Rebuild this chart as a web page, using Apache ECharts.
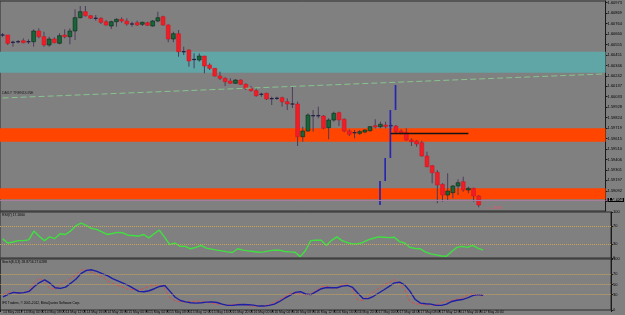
<!DOCTYPE html>
<html><head><meta charset="utf-8">
<script src="https://cdn.jsdelivr.net/npm/echarts@6/dist/echarts.min.js"></script>
<style>html,body{margin:0;padding:0;background:#808080;}#c{width:625px;height:315px;}</style>
</head><body><div id="c"></div>
<script>
// ---------- data ----------
const TIME_LABELS = ["14 May 2012","14 May 04:00","14 May 08:00","14 May 12:00","14 May 16:00","14 May 20:00",
  "15 May 00:00","15 May 04:00","15 May 08:00","15 May 12:00","15 May 16:00","15 May 20:00",
  "16 May 00:00","16 May 04:00","16 May 08:00","16 May 12:00","16 May 16:00","16 May 20:00",
  "17 May 00:00","17 May 04:00","17 May 08:00","17 May 12:00","17 May 16:00","17 May 20:00"];
const N_SLOTS = 117;          // hourly slots visible on the chart
const HOURS_PER_LABEL = 4;

const OPEN = [1.6065,1.6065,1.60577,1.60583,1.60593,1.60583,1.60583,1.6069,1.60633,1.6055,
1.6061,1.60567,1.6065,1.60633,1.6069,1.60823,1.60883,1.60843,1.60817,1.60817,
1.60783,1.6074,1.60783,1.60807,1.6079,1.6076,1.60773,1.60757,1.60773,1.6074,
1.6079,1.60833,1.6075,1.6061,1.60663,1.60483,1.6050,1.60405,1.6040,1.6044,
1.6035,1.60317,1.6024,1.60217,1.6019,1.60167,1.6020,1.60157,1.60117,1.60093,
1.60057,1.60067,1.60017,1.60017,1.60023,1.59983,1.5996,1.5996,1.59633,1.5969,
1.59843,1.59843,1.5984,1.59723,1.5980,1.59873,1.59807,1.5969,1.59673,1.59667,
1.5968,1.59693,1.59743,1.59733,1.5975,1.59743,1.5974,1.5969,1.59677,1.5960,
1.5959,1.59573,1.5944,1.59343,1.59277,1.59157,1.5905,1.59073,1.5914,1.59183,
1.5910,1.59117,1.5904];
const HIGH = [1.6067,1.6065,1.60593,1.6060,1.60617,1.60607,1.60707,1.60717,1.60683,1.60633,
1.60627,1.60667,1.60707,1.60717,1.60907,1.6094,1.6094,1.6085,1.6085,1.60827,
1.6080,1.60793,1.60817,1.60827,1.60817,1.60783,1.60793,1.60783,1.60783,1.6080,
1.60883,1.60843,1.60757,1.60683,1.6070,1.60533,1.60507,1.60467,1.60467,1.6044,
1.60367,1.60317,1.60283,1.60227,1.60217,1.60207,1.60207,1.60167,1.6014,1.60117,
1.60073,1.60073,1.60033,1.60033,1.60033,1.60017,1.60133,1.59983,1.59733,1.59867,
1.5990,1.59933,1.5985,1.59817,1.59883,1.59883,1.59817,1.59707,1.5970,1.5970,
1.59707,1.5974,1.59807,1.59783,1.59783,1.59767,1.5975,1.59707,1.59717,1.59617,
1.5960,1.59593,1.59483,1.5935,1.5930,1.59167,1.59267,1.5915,1.59207,1.59233,
1.59133,1.59123,1.5905];
const LOW = [1.6063,1.6055,1.60533,1.60567,1.60567,1.6056,1.60533,1.60617,1.60533,1.60533,
1.60567,1.60557,1.60617,1.60557,1.6060,1.60817,1.60833,1.6081,1.60793,1.6076,
1.60743,1.6071,1.60733,1.60773,1.60743,1.60733,1.6074,1.6074,1.6074,1.60733,
1.60777,1.60743,1.60577,1.60577,1.60433,1.6045,1.60333,1.60317,1.60383,1.60267,
1.6030,1.60233,1.6020,1.6014,1.6016,1.6016,1.6015,1.6010,1.60083,1.60033,
1.60033,1.6000,1.5995,1.6000,1.59933,1.5990,1.5992,1.5954,1.59583,1.59683,
1.59683,1.59817,1.59707,1.59607,1.59783,1.5974,1.59677,1.5964,1.59617,1.5965,
1.59667,1.59683,1.59717,1.59717,1.59717,1.5970,1.59667,1.59657,1.59593,1.5954,
1.59533,1.59433,1.59327,1.59167,1.58967,1.58983,1.5900,1.59017,1.5905,1.59083,
1.59067,1.58983,1.58927];
const CLOSE = [1.6065,1.60567,1.60577,1.60583,1.60573,1.60583,1.6069,1.60633,1.6055,1.6061,
1.60573,1.60643,1.60633,1.6069,1.60823,1.60883,1.60843,1.60817,1.60817,1.60777,
1.6075,1.60783,1.60807,1.6079,1.6076,1.6076,1.6075,1.60777,1.60747,1.6079,
1.60823,1.6075,1.6061,1.60663,1.60483,1.60483,1.6039,1.60405,1.6044,1.6034,
1.60317,1.6024,1.60217,1.60183,1.60167,1.6020,1.60157,1.60117,1.60093,1.60043,
1.60057,1.6001,1.6001,1.60017,1.59983,1.5996,1.5996,1.59633,1.5969,1.5985,
1.59843,1.59843,1.59717,1.5980,1.59867,1.5980,1.5969,1.59657,1.59673,1.59683,
1.5970,1.59733,1.5973,1.59757,1.59733,1.59743,1.59683,1.59673,1.5960,1.59583,
1.5956,1.5944,1.59333,1.59273,1.5915,1.5905,1.5909,1.5914,1.59173,1.5910,
1.59117,1.5904,1.5895];

const RSI7 = [41.5,32.6,34.8,37.8,37.8,39.3,58.5,47.4,37.8,45.9,
42.2,52.6,51.1,58.5,69.6,75.6,71.1,64.4,62.2,57.0,
51.1,53.3,55.6,54.8,49.6,48.9,47.4,51.1,43.7,52.6,
60.7,45.2,28.9,32.6,25.2,25.2,20.0,23.0,27.4,21.5,
19.3,17.0,15.6,13.3,11.9,20.0,17.0,15.6,14.1,12.6,
13.3,15.6,17.0,17.0,14.1,13.3,12.6,3.0,16.3,37.8,
38.5,38.5,27.4,38.5,45.9,37.8,33.3,30.4,30.4,34.1,
39.3,43.0,45.9,45.2,44.4,45.2,35.6,32.6,23.0,20.7,
20.0,12.6,8.9,6.7,4.4,3.7,14.1,23.0,25.2,23.0,
27.4,21.5,17.3];
const STOCH_MAIN = [25.6,30.8,34.6,33.3,34.0,36.5,46.2,53.8,59.0,52.6,
43.6,42.3,44.9,52.6,60.9,71.8,77.6,78.8,75.6,71.2,
67.3,61.5,57.1,52.6,48.1,42.3,36.5,35.9,37.8,41.7,
46.2,48.1,36.5,25.0,18.6,16.0,14.1,13.5,14.1,15.4,
16.0,14.7,11.5,9.0,9.0,10.3,10.9,10.3,9.6,7.7,
7.7,9.0,11.5,16.7,23.1,28.8,34.6,35.9,31.4,30.1,
35.9,41.7,44.2,43.6,43.6,46.8,48.1,44.2,32.7,22.4,
22.4,26.9,33.3,39.7,46.2,53.2,54.5,48.7,36.5,20.5,
13.5,12.2,11.5,9.0,9.0,11.5,16.7,19.2,20.5,23.7,
28.2,30.1,28.8];
const STOCH_SIGNAL = [30.1,35.9,34.6,34.0,34.0,38.5,53.2,62.2,55.1,41.7,
41.7,49.4,55.8,62.2,68.6,78.8,78.2,73.7,69.2,65.4,
57.1,51.9,48.1,44.9,41.0,39.7,38.5,42.3,46.8,48.1,
49.4,42.3,23.7,17.9,16.0,16.0,16.7,17.3,17.3,14.7,
13.5,11.5,10.9,9.6,10.9,11.5,10.9,9.0,7.1,7.7,
8.3,10.3,15.4,20.5,25.6,32.7,32.7,31.4,29.5,32.1,
37.8,45.5,46.8,42.9,42.9,50.6,51.3,40.4,19.2,19.2,
28.8,35.3,42.3,49.4,53.8,59.6,52.6,38.5,16.0,12.2,
10.9,10.3,9.6,10.3,14.1,17.3,19.2,21.2,24.4,28.8,
32.1,28.8,27.6];

const PRICE_TICKS = [1.60973,1.60869,1.60764,1.60660,1.60555,1.60451,1.60346,1.60242,1.60137,1.60033,
  1.59928,1.59824,1.59719,1.59615,1.59510,1.59406,1.59301,1.59197,1.59092,1.58988];
const PRICE_MIN = 1.5889, PRICE_MAX = 1.6099;
const RSI_TICKS = [100,70,30,0], RSI_LEVELS = [70,30];
const STOCH_TICKS = [100,70,50,30,0], STOCH_LEVELS = [70,50,30];

const ZONE_CYAN = [1.60273, 1.60483];
const ZONE_ORANGE_HIGH = [1.59583, 1.59717];
const ZONE_ORANGE_LOW = [1.59007, 1.59117];
const TRENDLINE_START = 1.6002, TRENDLINE_END = 1.6026;   // at first and last slot
const HLINE_PRICE = 1.5967, HLINE_FROM = 75, HLINE_TO = 90;
const PINK_LEVEL = 1.5919;
const BID = 1.5895;
const SPIKE_IDX = [73,74,75,76];
const SPIKE_HIGH = [1.5919,1.5942,1.5990,1.6015];
const SPIKE_LOW = [1.5895,1.5919,1.5942,1.5990];

// ---------- chart ----------
const FONT = 'Liberation Sans';
const CATS = Array.from({length: N_SLOTS}, (_, i) => String(i));
const candleData = OPEN.map((o, i) => [i, o, CLOSE[i], LOW[i], HIGH[i]]);
const spikeData = SPIKE_IDX.map((x, i) => [x, SPIKE_HIGH[i], SPIKE_LOW[i]]);
const LAST_LABEL_SLOT = (TIME_LABELS.length - 1) * HOURS_PER_LABEL;
const isLabelSlot = (idx) => idx % HOURS_PER_LABEL === 0 && idx <= LAST_LABEL_SLOT;

function renderCandle(params, api) {
  const x = api.value(0);
  const o = api.value(1), c = api.value(2), l = api.value(3), h = api.value(4);
  const pH = api.coord([x, h]), pL = api.coord([x, l]);
  const pO = api.coord([x, o]), pC = api.coord([x, c]);
  const bw = Math.max(1, api.size([1, 0])[0] * 0.74);
  const cx = pH[0];
  const kids = [{type: 'line', shape: {x1: cx, y1: pH[1], x2: cx, y2: pL[1]},
                 style: {stroke: '#4c3c5c', lineWidth: 1}}];
  const top = Math.min(pO[1], pC[1]), bot = Math.max(pO[1], pC[1]);
  if (bot - top < 0.8) {
    const ym = (top + bot) / 2;
    kids.push({type: 'line', shape: {x1: cx - bw / 2, y1: ym, x2: cx + bw / 2, y2: ym},
               style: {stroke: '#1c1c44', lineWidth: 1.2}});
  } else {
    const bull = c > o;
    kids.push({type: 'rect', shape: {x: cx - bw / 2, y: top, width: bw, height: bot - top},
      style: {fill: bull ? '#17653a' : '#f01c26', stroke: bull ? '#0c2a18' : '#d01822', lineWidth: 0.6}});
  }
  return {type: 'group', children: kids};
}
function renderSpike(params, api) {
  const x = api.value(0);
  const a = api.coord([x, api.value(1)]), b = api.coord([x, api.value(2)]);
  return {type: 'line', shape: {x1: a[0] - 0.4, y1: a[1], x2: b[0] - 0.4, y2: b[1]},
          style: {stroke: '#2626b0', lineWidth: 1.7}};
}

const gridCommon = {left: -2, right: 14, show: true, borderColor: '#2c2c2c', borderWidth: 1};
const yCommon = (grid, min, max, ticks, fmt) => ({
  type: 'value', gridIndex: grid, position: 'right', min: min, max: max,
  splitLine: {show: false},
  axisLine: {show: true, lineStyle: {color: '#1a1a1a', width: 1}},
  axisTick: {show: true, length: 2, customValues: ticks, lineStyle: {color: '#1a1a1a'}},
  axisLabel: {customValues: ticks, formatter: fmt, fontSize: 4, fontFamily: FONT, color: '#000', margin: 2}
});
const xCommon = (grid, labels) => ({
  type: 'category', gridIndex: grid, data: CATS, boundaryGap: true,
  axisLine: {show: false},
  axisTick: {show: labels, interval: (idx) => isLabelSlot(idx), length: 2, lineStyle: {color: '#1a1a1a'}},
  axisLabel: labels ? {
    show: true, interval: (idx) => isLabelSlot(idx), align: 'left', margin: 0.5,
    fontSize: 3.4, fontFamily: FONT, color: '#000',
    formatter: (v, idx) => TIME_LABELS[idx / HOURS_PER_LABEL] || ''
  } : {show: false}
});
const levelLines = (levels) => ({
  silent: true, symbol: 'none', label: {show: false},
  lineStyle: {type: 'dotted', color: '#c8a45a', width: 1},
  data: levels.map(v => ({yAxis: v}))
});

const chart = echarts.init(document.getElementById('c'), null, {renderer: 'canvas'});
chart.setOption({
  animation: false,
  backgroundColor: '#808080',
  grid: [
    Object.assign({top: 1, height: 210}, gridCommon),
    Object.assign({top: 212, height: 46}, gridCommon),
    Object.assign({top: 259, height: 51}, gridCommon)
  ],
  xAxis: [xCommon(0, false), xCommon(1, false), xCommon(2, true)],
  yAxis: [
    yCommon(0, PRICE_MIN, PRICE_MAX, PRICE_TICKS, v => v.toFixed(5)),
    yCommon(1, 0, 100, RSI_TICKS, v => String(v)),
    yCommon(2, 0, 100, STOCH_TICKS, v => String(v))
  ],
  graphic: [
    {type: 'text', left: 2, top: 91, silent: true, style: {text: 'DAILY TRENDLINE', fontSize: 3.6, fontFamily: FONT, fill: '#1e1e1e'}},
    {type: 'text', left: 2, top: 214, silent: true, style: {text: 'RSI(7) 17.2660', fontSize: 3.4, fontFamily: FONT, fill: '#000'}},
    {type: 'text', left: 2, top: 261, silent: true, style: {text: 'Stoch(8,3,3) 28.8716 27.6288', fontSize: 3.4, fontFamily: FONT, fill: '#000'}},
    {type: 'text', left: 2, top: 302, silent: true, style: {text: 'IFX Traders, \u00a9 2001-2012, MetaQuotes Software Corp.', fontSize: 3.2, fontFamily: FONT, fill: '#000'}},
    {type: 'text', left: 487, top: 205.5, silent: true, style: {text: '<-- 28:36', fontSize: 3.8, fontFamily: FONT, fill: '#ec5570'}}
  ],
  series: [
    { // zones and reference lines
      name: 'Zones', type: 'line', xAxisIndex: 0, yAxisIndex: 0, data: [], z: 1, silent: true,
      markArea: {silent: true, data: [
        [{yAxis: ZONE_CYAN[0], itemStyle: {color: '#60a6a6'}}, {yAxis: ZONE_CYAN[1]}],
        [{yAxis: ZONE_ORANGE_HIGH[0], itemStyle: {color: '#ff4500'}}, {yAxis: ZONE_ORANGE_HIGH[1]}],
        [{yAxis: ZONE_ORANGE_LOW[0], itemStyle: {color: '#ff4500'}}, {yAxis: ZONE_ORANGE_LOW[1]}]
      ]},
      markLine: {silent: true, symbol: 'none', data: [
        [{coord: [CATS[0], TRENDLINE_START], lineStyle: {color: '#86c48e', width: 1, type: [6, 3]}, label: {show: false}},
         {coord: [CATS[N_SLOTS - 1], TRENDLINE_END]}],
        {yAxis: PINK_LEVEL, lineStyle: {color: '#a87c9e', width: 1, type: 'solid'},
         label: {show: true, position: 'end', distance: 2, formatter: PINK_LEVEL.toFixed(5),
                 backgroundColor: '#f03cc8', color: '#fff', fontSize: 4, fontFamily: FONT, padding: [0, 1]}},
        {yAxis: BID, lineStyle: {color: 'rgba(0,0,0,0)', width: 1},
         label: {show: true, position: 'end', distance: 2, formatter: BID.toFixed(5),
                 backgroundColor: '#000', color: '#fff', fontSize: 4, fontFamily: FONT, padding: [0, 1]}}
      ]}
    },
    {
      name: 'GBPUSD,H1', type: 'custom', xAxisIndex: 0, yAxisIndex: 0, z: 3,
      renderItem: renderCandle, data: candleData, encode: {x: 0, y: [1, 2, 3, 4]}
    },
    {
      name: 'Spike', type: 'custom', xAxisIndex: 0, yAxisIndex: 0, z: 4,
      renderItem: renderSpike, data: spikeData, encode: {x: 0, y: [1, 2]},
      markLine: {silent: true, symbol: 'none', label: {show: false},
        lineStyle: {color: '#141414', width: 1.3, type: 'solid'},
        data: [[{coord: [CATS[HLINE_FROM], HLINE_PRICE]}, {coord: [CATS[HLINE_TO], HLINE_PRICE]}]]}
    },
    {
      name: 'RSI(7)', type: 'line', xAxisIndex: 1, yAxisIndex: 1, data: RSI7, symbol: 'none',
      lineStyle: {color: '#3fe03f', width: 1.4}, markLine: levelLines(RSI_LEVELS)
    },
    {
      name: 'Stoch main', type: 'line', xAxisIndex: 2, yAxisIndex: 2, data: STOCH_MAIN, symbol: 'none', z: 3,
      lineStyle: {color: '#1e1ea6', width: 1.4}, markLine: levelLines(STOCH_LEVELS)
    },
    {
      name: 'Stoch signal', type: 'line', xAxisIndex: 2, yAxisIndex: 2, data: STOCH_SIGNAL, symbol: 'none', z: 2,
      lineStyle: {color: '#e04848', width: 0.9, type: [3, 2]}
    }
  ]
});
</script></body></html>
